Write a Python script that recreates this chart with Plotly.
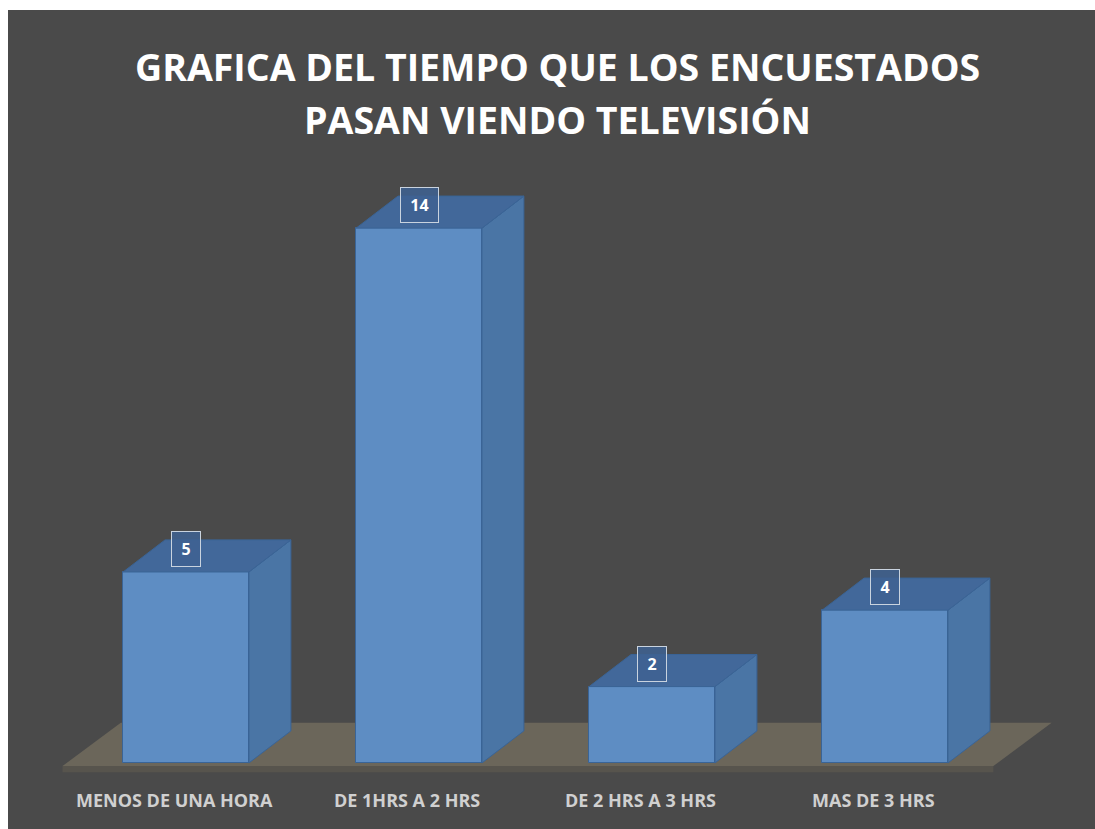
import plotly.graph_objects as go

# Survey data: time spent watching TV
categories = ["MENOS DE UNA HORA", "DE 1HRS A 2 HRS", "DE 2 HRS A 3 HRS", "MAS DE 3 HRS"]
counts = [5, 14, 2, 4]
title_lines = ["GRAFICA DEL TIEMPO QUE LOS ENCUESTADOS", "PASAN VIENDO TELEVISIÓN"]

# Styling
BG = "#4a4a4a"
FLOOR = "#6b665a"
FLOOR_EDGE = "#57544d"
FRONT = "#5e8dc3"
SIDE = "#4a75a5"
TOP = "#42689a"
EDGE = "#3a6496"

BAR_W = 0.54          # bar width in category units
DEPTH_X = 0.18        # 3D depth offset (x, category units)
DEPTH_Y = 0.84        # 3D depth offset (y, value units)

xs = list(range(len(categories)))

fig = go.Figure()

# Side and top faces of each 3D column
for x, v in zip(xs, counts):
    left, right = x - BAR_W / 2, x + BAR_W / 2
    fig.add_trace(go.Scatter(
        x=[right, right + DEPTH_X, right + DEPTH_X, right, right],
        y=[0, DEPTH_Y, v + DEPTH_Y, v, 0],
        fill="toself", fillcolor=SIDE, mode="lines",
        line=dict(color=EDGE, width=1), hoverinfo="skip", showlegend=False))
    fig.add_trace(go.Scatter(
        x=[left, right, right + DEPTH_X, left + DEPTH_X, left],
        y=[v, v, v + DEPTH_Y, v + DEPTH_Y, v],
        fill="toself", fillcolor=TOP, mode="lines",
        line=dict(color=EDGE, width=1), hoverinfo="skip", showlegend=False))

# Front faces
fig.add_trace(go.Bar(
    x=xs, y=counts, width=BAR_W,
    marker=dict(color=FRONT, line=dict(color=EDGE, width=1)),
    hoverinfo="skip", showlegend=False))

# Floor of the 3D chart (top surface plus thin front edge)
floor_front, floor_back, floor_bottom = -0.08, 1.05, -0.24
floor_l, floor_r = xs[0] - 0.53, xs[-1] + 0.465
floor_dx = 0.25
fig.add_shape(
    type="path", xref="x", yref="y", layer="below",
    path=(f"M {floor_l},{floor_front} L {floor_r},{floor_front} "
          f"L {floor_r + floor_dx},{floor_back} L {floor_l + floor_dx},{floor_back} Z"),
    fillcolor=FLOOR, line=dict(width=0))
fig.add_shape(
    type="rect", xref="x", yref="y", layer="below",
    x0=floor_l, x1=floor_r, y0=floor_bottom, y1=floor_front,
    fillcolor=FLOOR_EDGE, line=dict(width=0))

# Value labels in boxes above each column
for x, v in zip(xs, counts):
    fig.add_annotation(
        x=x, y=v, xref="x", yref="y", yshift=23,
        text=f"<b>{v}</b>", showarrow=False,
        font=dict(family="Open Sans", size=16, color="white"),
        bgcolor="rgba(62,98,146,0.85)", bordercolor="#c9d3df", borderwidth=1,
        borderpad=6, width=7 + 9 * len(str(v)))

# Category labels under the floor
for x, c in zip(xs, categories):
    fig.add_annotation(
        x=x, y=-0.97, xref="x", yref="y", xshift=-12,
        text=f"<b>{c}</b>", showarrow=False,
        font=dict(family="Open Sans", size=18, color="#d0d0d0"))

# Two-line chart title
for line, py in zip(title_lines, [0.9316, 0.8669]):
    fig.add_annotation(
        x=0.5055, y=py, xref="paper", yref="paper",
        xanchor="center", yanchor="middle",
        text=f"<b>{line}</b>", showarrow=False,
        font=dict(family="Open Sans", size=37.5, color="white"))

fig.update_layout(
    width=1095, height=829,
    margin=dict(l=8, r=0, t=10, b=0),
    paper_bgcolor="white", plot_bgcolor=BG,
    xaxis=dict(range=[-0.764, 3.901], visible=False, fixedrange=True),
    yaxis=dict(range=[-1.728, 19.71], visible=False, fixedrange=True),
    bargap=0,
)

fig.write_html("out.html")
